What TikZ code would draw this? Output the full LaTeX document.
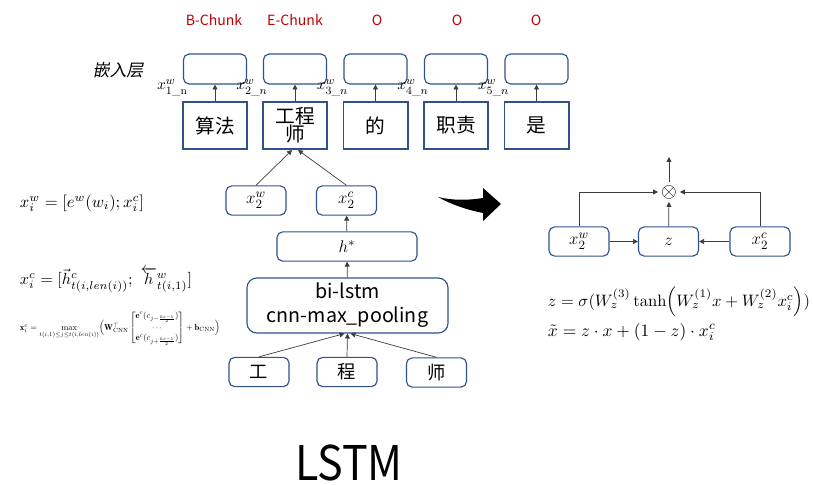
\documentclass[tikz,border=0pt]{standalone}
\usepackage{fontspec}
\usepackage{amsmath, amssymb}
\usetikzlibrary{arrows.meta, positioning, calc}
\newfontfamily\cjk{Noto Sans CJK SC}
\newfontfamily\cjkit[FakeSlant=0.2]{Noto Sans CJK SC}
\definecolor{boxblue}{RGB}{47, 82, 143}
\definecolor{chunkred}{RGB}{192, 0, 0}
\definecolor{arrgray}{RGB}{60, 60, 60}

\begin{document}
\begin{tikzpicture}[x=0.025cm, y=-0.025cm,
  outbox/.style={draw=boxblue, line width=0.8pt, rounded corners=4pt, fill=white, minimum width=1.575cm, minimum height=0.75cm, inner sep=0pt},
  wordbox/.style={draw=boxblue, line width=1.4pt, fill=white, minimum width=1.6cm, minimum height=1.175cm, inner sep=0pt, align=center, font=\cjk\fontsize{14}{15}\selectfont},
  rbox/.style={draw=boxblue, line width=0.8pt, rounded corners=4pt, fill=white, minimum width=1.5cm, minimum height=0.73cm, inner sep=0pt, font=\cjk\fontsize{13}{15}\selectfont},
  tag/.style={text=chunkred, font=\cjk\fontsize{10}{12}\selectfont},
  wlabel/.style={anchor=east, inner sep=0pt, font=\fontsize{11}{13}\selectfont},
  arr/.style={-{Triangle[length=3.5pt, width=3.5pt]}, draw=arrgray, line width=0.5pt},
]
  \useasboundingbox (0,0) rectangle (813,485);

  % output tags
  \node[tag] (t1) at (214,20) {B-Chunk};
  \node[tag] (t2) at (295,20) {E-Chunk};
  \node[tag] (t3) at (377,20) {O};
  \node[tag] (t4) at (457,20) {O};
  \node[tag] (t5) at (536,20) {O};

  \node[font=\cjkit\fontsize{12}{14}\selectfont] (emb) at (118,70) {嵌入层};

  % embedding boxes
  \node[outbox] (o1) at (215,69) {};
  \node[outbox] (o2) at (295,69) {};
  \node[outbox] (o3) at (375.5,69) {};
  \node[outbox] (o4) at (456,69) {};
  \node[outbox] (o5) at (536.5,69) {};
  \node[wlabel] (l1) at ($(o1.south west)+(5,3)$) {$x^w_{1\_\mathrm{n}}$};
  \node[wlabel] (l2) at ($(o2.south west)+(5,3)$) {$x^w_{2\_n}$};
  \node[wlabel] (l3) at ($(o3.south west)+(5,3)$) {$x^w_{3\_n}$};
  \node[wlabel] (l4) at ($(o4.south west)+(5,3)$) {$x^w_{4\_n}$};
  \node[wlabel] (l5) at ($(o5.south west)+(5,3)$) {$x^w_{5\_n}$};

  % words
  \node[wordbox] (w1) at (215,125.5) {算法};
  \node[wordbox] (w2) at (295,125.5) {工程\\[-2pt]师};
  \node[wordbox] (w3) at (375.5,125.5) {的};
  \node[wordbox] (w4) at (456,125.5) {职责};
  \node[wordbox] (w5) at (536.5,125.5) {是};
  \draw[arr] (w1) -- (o1);
  \draw[arr] (w2) -- (o2);
  \draw[arr] (w3) -- (o3);
  \draw[arr] (w4) -- (o4);
  \draw[arr] (w5) -- (o5);

  % character level
  \node[rbox] (gw) at (256,200.5) {$x_2^w$};
  \node[rbox] (gc) at (346.5,200.5) {$x_2^c$};
  \node[rbox, minimum width=3.5cm] (hs) at (347,246.5) {$h^*$};
  \node[rbox, minimum width=5.025cm, minimum height=1.375cm, rounded corners=7pt, align=center, font=\cjk\fontsize{14}{17}\selectfont] (bl) at (347.5,305.5) {bi-lstm\\cnn-max\_pooling};
  \node[rbox] (c1) at (259,372) {工};
  \node[rbox] (c2) at (347,372) {程};
  \node[rbox] (c3) at (436.5,372.5) {师};
  \draw[arr] (gw.north) -- ($(w2.south)+(-3,0)$);
  \draw[arr] (gc.north) -- ($(w2.south)+(3,0)$);
  \draw[arr] (hs) -- (gc);
  \draw[arr] (bl) -- (hs);
  \draw[arr] (c1.north) -- ($(bl.south)+(-3,0)$);
  \draw[arr] (c2.north) -- (bl.south);
  \draw[arr] (c3.north) -- ($(bl.south)+(3,0)$);

  % formulas on the left
  \node[anchor=west] (f1) at (15,203) {\resizebox{3.1cm}{!}{$x_i^w=[e^w(w_i);x_i^c]$}};
  \node[anchor=west] (f2) at (15,280) {\resizebox{4.3cm}{!}{$x_i^c=[\vec{h}^c_{t(i,len(i))};\ \overleftarrow{h}^w_{t(i,1)}]$}};
  \node[anchor=west] (f3) at (15,328) {\resizebox{5cm}{!}{$\mathbf{x}_i^c=\max\limits_{t(i,1)\le j\le t(i,len(i))}\Bigl(\mathbf{W}_{\mathrm{CNN}}^{\top}\begin{bmatrix}\mathbf{e}^c(c_{j-\frac{ke-1}{2}})\\ \cdots\\ \mathbf{e}^c(c_{j+\frac{ke-1}{2}})\end{bmatrix}+\mathbf{b}_{\mathrm{CNN}}\Bigr)$}};

  % big arrow
  \fill (438,197) .. controls (455,201) and (470,200) .. (483,198) -- (483,188) -- (501,204) -- (483,221) -- (483,213) .. controls (468,210) and (452,205) .. (438,197) -- cycle;

  % gate
  \node[rbox] (rw) at (579,241.5) {$x_2^w$};
  \node[rbox] (rz) at (668.5,241.5) {$z$};
  \node[rbox] (rc) at (760,241.5) {$x_2^c$};
  \node[inner sep=2pt, font=\fontsize{14}{16}\selectfont] (ot) at (669,192) {$\otimes$};
  \coordinate (otop) at (669,157);
  \draw[arr] (rw) -- (rz);
  \draw[arr] (rc) -- (rz);
  \draw[arr] (rz) -- (ot);
  \draw[arr] (ot) -- (otop);
  \draw[arr] (rw.north) |- (ot);
  \draw[arr] (rc.north) |- (ot);

  \node[anchor=west] (ez) at (543,302) {\resizebox{6.55cm}{!}{$z=\sigma(W_z^{(3)}\tanh\Bigl(W_z^{(1)}x+W_z^{(2)}x_i^c\Bigr))$}};
  \node[anchor=west] (ex) at (543,332) {\resizebox{4.2cm}{!}{$\tilde{x}=z\cdot x+(1-z)\cdot x_i^c$}};

  \node[font=\cjk\fontsize{34}{40}\selectfont] (title) at (349,463) {\scalebox{0.9}[1]{LSTM}};
\end{tikzpicture}
\end{document}
